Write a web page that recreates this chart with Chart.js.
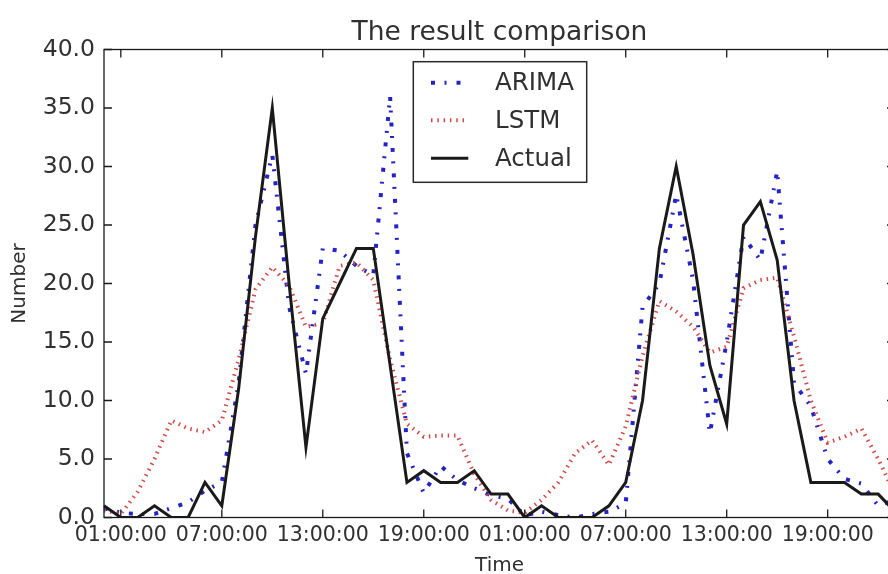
<!DOCTYPE html>
<html>
<head>
<meta charset="utf-8">
<script src="https://cdn.jsdelivr.net/npm/chart.js@4.4.1/dist/chart.umd.min.js"></script>
<style>
html,body{margin:0;padding:0;background:#fff;overflow:hidden;width:888px;height:574px;}
#wrap{position:absolute;left:0;top:0;width:920px;height:580px;}
</style>
</head>
<body>
<div id="wrap"><canvas id="c"></canvas></div>
<script>
// ---- data ----
const times = [
  '00:00:00','01:00:00','02:00:00','03:00:00','04:00:00','05:00:00','06:00:00','07:00:00',
  '08:00:00','09:00:00','10:00:00','11:00:00','12:00:00','13:00:00','14:00:00','15:00:00',
  '16:00:00','17:00:00','18:00:00','19:00:00','20:00:00','21:00:00','22:00:00','23:00:00',
  '00:00:00','01:00:00','02:00:00','03:00:00','04:00:00','05:00:00','06:00:00','07:00:00',
  '08:00:00','09:00:00','10:00:00','11:00:00','12:00:00','13:00:00','14:00:00','15:00:00',
  '16:00:00','17:00:00','18:00:00','19:00:00','20:00:00','21:00:00','22:00:00','23:00:00'
];
const shownTimeTicks = ['01:00:00','07:00:00','13:00:00','19:00:00'];

const arima = [0.8,0.4,0.3,0.3,0.8,1.3,2.3,3.0,11.5,25,31,18,12.3,23,22.8,21.5,
               20.7,36,5.5,2.1,4.4,3.2,2.5,1.9,1.6,0.2,0.5,0.2,0,0.3,0.5,1.2,
               18,20,27.6,20.3,7.2,15,24,22,29.6,11.5,9.5,5,3.3,2.9,1,1.5];
const lstm  = [0.6,0.3,2.2,5,8.3,7.6,7.3,8.3,13.5,19.5,21.4,19.8,16.3,16.6,21.5,21.8,
               20.3,13.5,8,6.9,7,7,3.7,1.5,0.6,0.4,1.5,3,5.5,6.6,4.5,7.8,
               13.8,18.5,17.6,16.3,14.1,14.6,19.6,20.3,20.5,15.5,10,6.4,6.9,7.6,5,2];
const actual = [1,0,0,1,0,0,3,1,11,24,35,20,6,17,20,23,
                23,13,3,4,3,3,4,2,2,0,1,0,0,0,1,3,
                10,23,30,22.5,13,8,25,27,22,10,3,3,3,2,2,0.5];

const yMin = 0, yMax = 40, yStep = 5;
const FONT = 'DejaVu Sans';
const TEXT = '#303030';

const decor = {
  id: 'decor',
  afterDatasetsDraw(chart) {
    const {ctx, chartArea: {left, right, top, bottom}, scales: {x, y}} = chart;
    ctx.save();
    ctx.strokeStyle = '#1a1a1a';
    ctx.lineWidth = 1.3;
    ctx.strokeRect(left, top, right - left, bottom - top);
    const tl = 8;
    ctx.beginPath();
    x.ticks.forEach((t, i) => {
      if (!t.label) return;
      const px = x.getPixelForTick(i);
      ctx.moveTo(px, bottom); ctx.lineTo(px, bottom - tl);
      ctx.moveTo(px, top); ctx.lineTo(px, top + tl);
    });
    y.ticks.forEach((t, i) => {
      const py = y.getPixelForTick(i);
      ctx.moveTo(left, py); ctx.lineTo(left + tl, py);
      ctx.moveTo(right, py); ctx.lineTo(right - tl, py);
    });
    ctx.stroke();
    ctx.restore();
  },
  afterDraw(chart) {
    const {ctx, chartArea: {left, right}} = chart;
    ctx.save();
    // title
    ctx.fillStyle = TEXT;
    ctx.font = `26.5px "${FONT}"`;
    ctx.textAlign = 'center';
    ctx.textBaseline = 'alphabetic';
    ctx.fillText('The result comparison', (left + right) / 2, 39.5);
    // legend
    const bx = 413.3, by = 61.7, bw = 173.4, bh = 120.6;
    ctx.fillStyle = '#fff';
    ctx.fillRect(bx, by, bw, bh);
    ctx.strokeStyle = '#2a2a2a';
    ctx.lineWidth = 1.5;
    ctx.strokeRect(bx, by, bw, bh);
    const rows = [82.7, 120.2, 158.2];
    chart.data.datasets.forEach((ds, i) => {
      const ry = rows[i];
      ctx.save();
      ctx.strokeStyle = ds.borderColor;
      ctx.lineWidth = ds.borderWidth;
      ctx.setLineDash(ds.borderDash || []);
      ctx.lineCap = 'butt';
      ctx.beginPath();
      ctx.moveTo(431, ry);
      ctx.lineTo(468.3, ry);
      ctx.stroke();
      ctx.restore();
      ctx.fillStyle = TEXT;
      ctx.font = `24.5px "${FONT}"`;
      ctx.textAlign = 'left';
      ctx.textBaseline = 'middle';
      ctx.fillText(ds.label, 495, ry + 1);
    });
    ctx.restore();
  }
};

new Chart(document.getElementById('c'), {
  type: 'line',
  data: {
    labels: times,
    datasets: [
      { label: 'ARIMA', data: arima, borderColor: '#2424c4', borderWidth: 4,
        borderDash: [4, 9.5, 2, 10], order: 2 },
      { label: 'LSTM', data: lstm, borderColor: '#d04a4a', borderWidth: 4,
        borderDash: [1.5, 4.8], order: 1 },
      { label: 'Actual', data: actual, borderColor: '#1a1a1a', borderWidth: 3, order: 0 }
    ]
  },
  options: {
    responsive: true,
    maintainAspectRatio: false,
    animation: false,
    layout: { padding: { top: 49.5, right: 25, bottom: 0, left: 0 } },
    elements: { point: { radius: 0 }, line: { tension: 0, fill: false } },
    plugins: { legend: { display: false }, title: { display: false }, tooltip: { enabled: false } },
    scales: {
      x: {
        type: 'category',
        offset: false,
        grid: { display: false, drawTicks: false },
        border: { display: false },
        ticks: {
          autoSkip: false, maxRotation: 0, minRotation: 0, padding: 6,
          color: TEXT, font: { family: FONT, size: 20.5 },
          callback(v) { const l = this.getLabelForValue(v); return shownTimeTicks.includes(l) ? l : ''; }
        },
        title: { display: true, text: 'Time', color: TEXT, font: { family: FONT, size: 20 },
                 padding: { top: 0, bottom: 2 } },
        afterFit(s) { s.height = 62.5; }
      },
      y: {
        min: yMin, max: yMax,
        grid: { display: false, drawTicks: false },
        border: { display: false },
        ticks: { stepSize: yStep, padding: 9, color: TEXT, font: { family: FONT, size: 23.5 },
                 callback: v => v.toFixed(1) },
        title: { display: true, text: 'Number', color: TEXT, font: { family: FONT, size: 20 },
                 padding: { top: 8, bottom: 0 } },
        afterFit(s) { s.width = 104; }
      }
    }
  },
  plugins: [decor]
});
</script>
</body>
</html>
